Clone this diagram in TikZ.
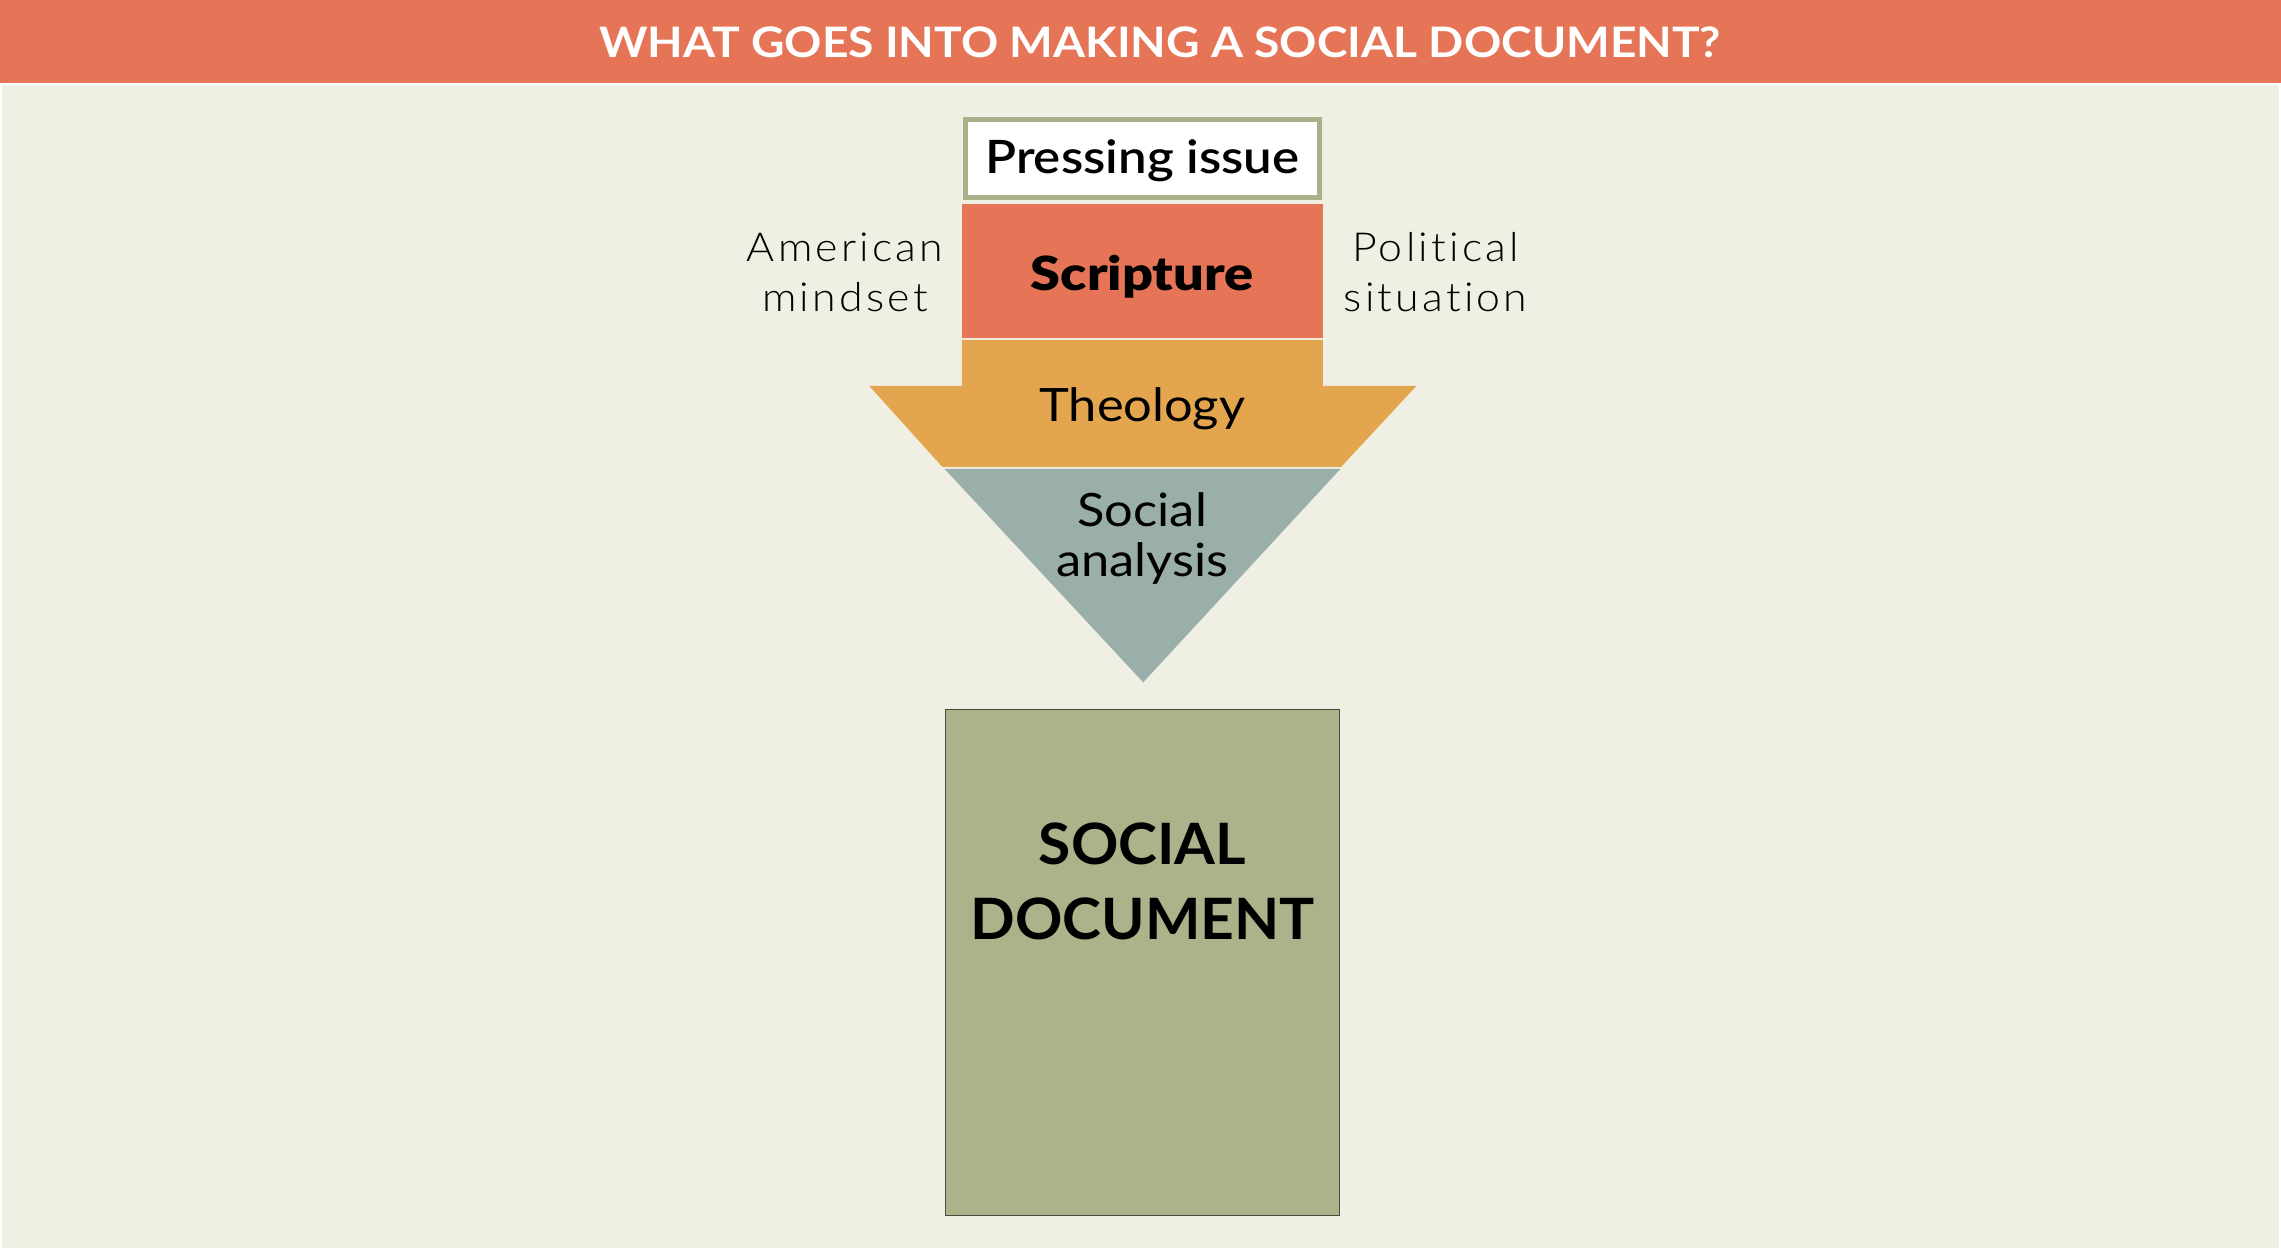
\documentclass[tikz,border=0pt]{standalone}
\usepackage{fontspec}
\setmainfont{Lato}
\newfontfamily\latolight[FakeStretch=1.07,LetterSpace=8,Ligatures={NoCommon,NoRare}]{Lato Light}
\newfontfamily\latoblack[FakeStretch=1.15]{Lato Black}
\newfontfamily\latobold[FakeStretch=1.03]{Lato Bold}
\newfontfamily\latotitle[FakeStretch=1.1]{Lato Bold}
\newfontfamily\latosemi[FakeStretch=1.11]{Lato Semibold}
\newfontfamily\latoreg[FakeStretch=1.1]{Lato}
\definecolor{hdr}{RGB}{229,117,86}
\definecolor{bgc}{RGB}{239,239,227}
\definecolor{scr}{RGB}{229,117,86}
\definecolor{theo}{RGB}{227,166,78}
\definecolor{soc}{RGB}{154,174,170}
\definecolor{docc}{RGB}{171,179,138}
\definecolor{docb}{RGB}{70,76,60}
\definecolor{pib}{RGB}{169,176,138}
\tikzset{
  lbl/.style={inner sep=0pt, align=center, text=black},
  sidelbl/.style={lbl, font=\latolight\fontsize{40}{50}\selectfont},
}
\begin{document}
\begin{tikzpicture}[x=1pt,y=-1pt]
\useasboundingbox (0,0) rectangle (2281,1250);
\fill[white] (0,0) rectangle (2281,1250);
\fill[bgc] (2,85) rectangle (2279,1248);
\fill[hdr] (0,0) rectangle (2281,83);
\node[lbl, text=white, font=\latotitle\fontsize{42}{48}\selectfont] (title) at (1160,42) {WHAT GOES INTO MAKING A SOCIAL DOCUMENT?};
% pressing issue
\node[draw=pib, line width=5pt, fill=white, minimum width=354pt, minimum height=78pt, inner sep=0pt] (press) at (1142.3,158.4) {};
\node[lbl, font=\latosemi\fontsize{46}{54}\selectfont] (presst) at (1142.3,161) {Pressing issue};
% scripture
\node[fill=scr, minimum width=361pt, minimum height=134pt, inner sep=0pt] (scrip) at (1142.3,270.9) {};
\node[lbl, font=\latoblack\fontsize{47}{54}\selectfont] (script) at (1142.3,277) {Scripture};
% theology
\fill[theo] (961.8,339.9) -- (1322.8,339.9) -- (1322.8,385.8) -- (1416.5,385.8) -- (1341.2,466.8) -- (942.3,466.8) -- (869.1,385.8) -- (961.8,385.8) -- cycle;
\node[lbl, font=\latoreg\fontsize{46}{54}\selectfont] (theot) at (1142.3,409) {Theology};
% social analysis
\fill[soc] (944.5,468.8) -- (1340.5,468.8) -- (1143.2,682.3) -- cycle;
\node[lbl, font=\latoreg\fontsize{46}{50}\selectfont] (soct) at (1142.3,538) {Social\\analysis};
% side labels
\node[sidelbl] (amer) at (845,272) {American\\mindset};
\node[sidelbl] (polit) at (1435.5,272) {Political\\situation};
% document
\node[draw=docb, line width=1.5pt, fill=docc, minimum width=394pt, minimum height=506pt, inner sep=0pt] (doc) at (1142.5,962.5) {};
\node[lbl, font=\latobold\fontsize{57}{75}\selectfont] (doct) at (1142.5,881) {SOCIAL\\DOCUMENT};
\end{tikzpicture}
\end{document}
